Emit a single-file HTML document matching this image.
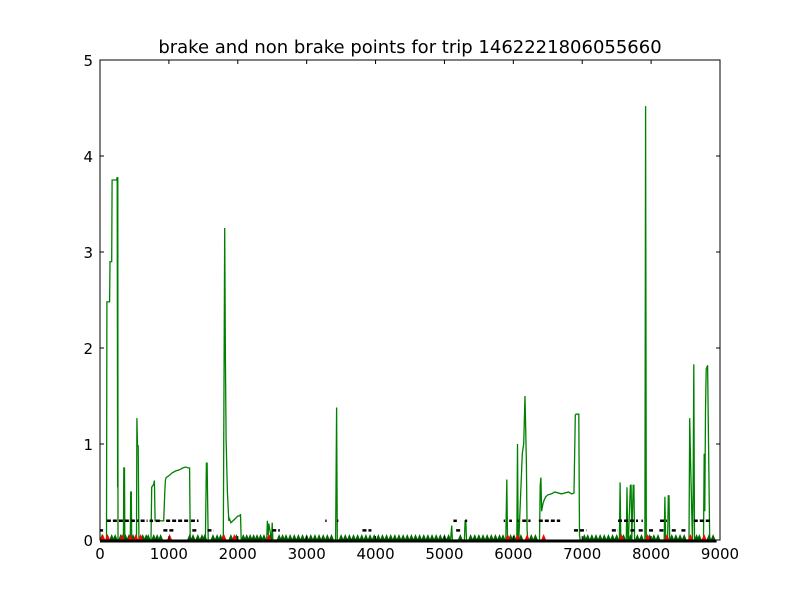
<!DOCTYPE html>
<html><head><meta charset="utf-8"><style>
body{margin:0;background:#fff;}
svg text{font-family:"DejaVu Sans","Liberation Sans",sans-serif;}
</style></head><body>
<svg id="chart" width="800" height="600" xmlns="http://www.w3.org/2000/svg">
<rect width="800" height="600" fill="#fff"/>
<text x="410" y="53" font-size="18" text-anchor="middle">brake and non brake points for trip 1462221806055660</text>
<g id="plot"></g>
<rect x="100" y="60" width="620" height="480" fill="none" stroke="#000" stroke-width="1"/>
<g id="axes"></g>
</svg>
<script>
const xTicks=[0,1000,2000,3000,4000,5000,6000,7000,8000,9000];
const yTicks=[0,1,2,3,4,5];
const lineX=[0,95,100,140,145,170,175,240,250,255,258,262,290,340,345,355,360,440,445,455,460,530,535,545,555,565,570,740,750,780,790,800,810,820,925,940,950,960,1000,1050,1100,1150,1200,1240,1290,1300,1310,1530,1545,1555,1570,1790,1810,1820,1830,1850,1870,1880,1900,1960,2000,2030,2040,2050,2420,2430,2440,2450,2490,2500,2510,2540,2550,2560,2570,3420,3435,3445,3460,5090,5105,5115,5130,5290,5300,5310,5320,5890,5905,5915,5925,6050,6060,6070,6080,6130,6150,6170,6190,6200,6210,6220,6380,6390,6400,6410,6430,6450,6470,6500,6550,6600,6700,6800,6850,6880,6900,6910,6950,6960,6970,7540,7550,7560,7570,7640,7650,7660,7670,7700,7710,7720,7740,7750,7760,7900,7910,7920,7930,8180,8190,8200,8210,8240,8250,8260,8270,8540,8550,8560,8570,8600,8610,8620,8630,8750,8760,8770,8780,8790,8800,8820,8850,8860,8900];
const lineY=[0,0,2.48,2.48,2.9,2.9,3.75,3.75,3.78,0.55,3.78,0,0,0,0.75,0.75,0,0,0.5,0.5,0,0,1.27,0.98,0.98,0,0,0,0.55,0.58,0.62,0.2,0.2,0.2,0.2,0.5,0.62,0.65,0.67,0.7,0.72,0.73,0.75,0.76,0.75,0.75,0,0,0.8,0.8,0,0,3.25,1.9,1.05,0.5,0.2,0.22,0.18,0.22,0.25,0.25,0.27,0,0,0.2,0.05,0.17,0,0.18,0,0,0,0,0,0,1.38,0,0,0,0.15,0,0,0,0.2,0.2,0,0,0.63,0,0,0,1.0,0,0,0.9,1.0,1.5,0.8,0.1,0,0,0,0.57,0.65,0.3,0.38,0.42,0.45,0.47,0.48,0.5,0.48,0.5,0.48,0.49,1.3,1.31,1.31,0.05,0,0,0.6,0,0,0,0.55,0,0,0.57,0.57,0,0.57,0.57,0,0,0,4.52,0,0,0,0.45,0,0,0.46,0.46,0,0,0,1.27,0.9,0,0.5,1.83,0,0,0,0.9,0.3,1.35,1.78,1.82,0,0,0];
const dash2=[[100,560],[590,690],[720,770],[810,870],[960,1280],[1320,1430],[3270,3290],[3440,3460],[5130,5180],[5300,5330],[5860,5880],[5940,5980],[6060,6080],[6130,6250],[6370,6680],[7520,7810],[7860,7880],[8130,8230],[8620,8860]];
const dash1=[[0,45],[920,1090],[1340,1400],[1560,1650],[2500,2610],[3810,3940],[5170,5250],[6880,7060],[7430,7520],[7700,7770],[7820,7900],[7970,8050],[8120,8200],[8300,8380],[8440,8520]];
const triG=[30,170,220,300,370,420,480,620,670,700,780,830,880,1300,1350,1420,1480,1520,1640,1700,1750,1790,1900,1980,2080,2130,2180,2230,2280,2330,2380,2470,2600,2650,2700,2760,2820,2880,2940,3000,3060,3120,3180,3240,3300,3360,3500,3560,3620,3680,3740,3800,3860,3920,3980,4040,4100,4160,4220,4280,4340,4400,4460,4520,4580,4640,4700,4760,4820,4880,4940,5000,5060,5230,5380,5440,5500,5560,5620,5680,5740,5800,5850,5960,6010,6110,6260,6320,7030,7080,7140,7200,7260,7320,7380,7440,7500,7600,7700,7800,7860,7980,8040,8100,8300,8360,8420,8480,8660,8700,8840,8900];
const triR=[40,110,320,440,520,590,1010,1800,1950,2450,5920,6060,6200,6440,7570,7950,8230,8570,8770];
const X=v=>100+v*620/9000, Y=v=>540-v*96;
const NS="http://www.w3.org/2000/svg";
const plot=document.getElementById('plot'), axes=document.getElementById('axes');
function mk(tag,attrs,parent){const e=document.createElementNS(NS,tag);for(const k in attrs)e.setAttribute(k,attrs[k]);parent.appendChild(e);return e;}
const base=mk('line',{x1:X(0),x2:X(8950),y1:Y(0)+1,y2:Y(0)+1,stroke:'#000','stroke-width':3},plot);


const pts=lineX.map((x,i)=>X(x).toFixed(1)+','+Y(lineY[i]).toFixed(1)).join(' ');
const pl=mk('polyline',{points:pts,fill:'none',stroke:'#008000','stroke-width':1.3},plot);


dash2.forEach(d=>{const l=mk('line',{x1:X(d[0]),x2:X(d[1]),y1:Y(0.2),y2:Y(0.2),stroke:'#000','stroke-width':2.5,'stroke-dasharray':'4,2'},plot);

});
dash1.forEach(d=>{const l=mk('line',{x1:X(d[0]),x2:X(d[1]),y1:Y(0.1),y2:Y(0.1),stroke:'#000','stroke-width':2.5,'stroke-dasharray':'4,2'},plot);

});
function tri(v,c,n){const x=X(v),y=Y(0);const p=mk('polygon',{points:`${x-2.5},${y} ${x+2.5},${y} ${x},${y-6}`,fill:c},plot);

}
triG.forEach(v=>tri(v,'#006400','green-marker'));
triR.forEach(v=>tri(v,'#ff0000','red-marker'));
xTicks.forEach(t=>{const x=X(t);
mk('line',{x1:x,x2:x,y1:540,y2:536,stroke:'#000'},axes);mk('line',{x1:x,x2:x,y1:60,y2:64,stroke:'#000'},axes);
const tx=mk('text',{x:x,y:559,'font-size':15,'text-anchor':'middle'},axes);tx.textContent=t;

});
yTicks.forEach(t=>{const y=Y(t);
mk('line',{x1:100,x2:104,y1:y,y2:y,stroke:'#000'},axes);mk('line',{x1:716,x2:720,y1:y,y2:y,stroke:'#000'},axes);
const tx=mk('text',{x:93,y:y+6,'font-size':15,'text-anchor':'end'},axes);tx.textContent=t;

});
</script>
</body></html>
